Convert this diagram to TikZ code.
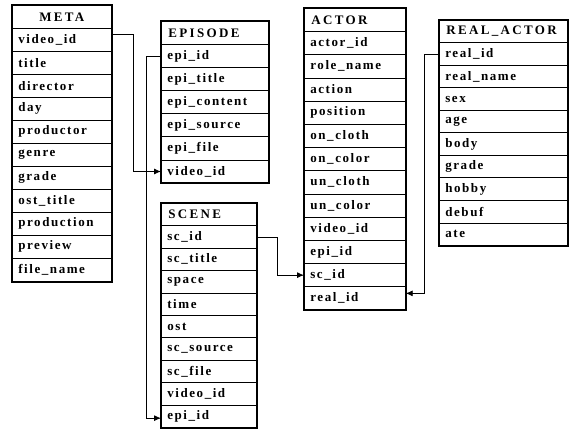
\documentclass[tikz,border=0pt]{standalone}
\usepackage{fontspec}
\setmainfont{Liberation Serif}
\newfontfamily\fieldfont[LetterSpace=12]{Liberation Serif}
\newfontfamily\headfont[LetterSpace=18]{Liberation Serif}
\usetikzlibrary{arrows.meta}
\tikzset{
  fieldbox/.style={draw, line width=0.7pt, inner xsep=6pt, inner ysep=0pt, align=left, font=\fieldfont\bfseries\fontsize{13}{14}\selectfont},
  hdrbox/.style={draw, line width=0.7pt, inner xsep=7pt, inner ysep=0pt, font=\headfont\bfseries\fontsize{13}{14}\selectfont},
  outerbox/.style={line width=2pt},
  conn/.style={line width=0.8pt, -{Latex[length=7pt,width=6pt]}},
}
\newcommand{\hdral}{left}
\newcommand{\dbtable}[8]{%
  \pgfmathsetmacro{\tw}{#4-12}%
  \node[hdrbox, align=\hdral, minimum width=#4, text width=\tw pt-2pt, minimum height=#5, anchor=north west] (#1h) at (#2,#3) {#6};
  \foreach \f [count=\i] in {#8} {
    \node[fieldbox, minimum width=#4, text width=\tw pt, minimum height=#5, anchor=north west] (#1\i) at (#2,{#3+\i*#5}) {\f};
  }
  \draw[outerbox] (#1h.north west) rectangle (#1#7.south east);
}
\begin{document}
\begin{tikzpicture}[x=1pt,y=-1pt]
\useasboundingbox (0,0) rectangle (569,430);
\renewcommand{\hdral}{center}
\dbtable{meta}{12}{5}{99}{23}{META}{11}{video\_id,title,director,day,productor,genre,grade,ost\_title,production,preview,file\_name}
\renewcommand{\hdral}{left}
\dbtable{epi}{161}{21}{107}{23.1}{EPISODE}{6}{epi\_id,epi\_title,epi\_content,epi\_source,epi\_file,video\_id}
\dbtable{scene}{161}{203}{95}{22.4}{SCENE}{9}{sc\_id,sc\_title,space,time,ost,sc\_source,sc\_file,video\_id,epi\_id}
\dbtable{actor}{304}{8}{101}{23.2}{ACTOR}{12}{actor\_id,role\_name,action,position,on\_cloth,on\_color,un\_cloth,un\_color,video\_id,epi\_id,sc\_id,real\_id}
\dbtable{real}{439}{20}{128}{22.5}{REAL\_ACTOR}{9}{real\_id,real\_name,sex,age,body,grade,hobby,debuf,ate}
% connectors
\draw[conn] ([yshift=5pt]meta1.east) -- ++(22,0) coordinate (c1) |- (epi6.west);
\draw[conn] (epi1.west) -- ++(-15,0) coordinate (c2) |- ([yshift=-2pt]scene9.west);
\draw[conn] (scene1.east) -- ++(21,0) coordinate (c3) |- (actor11.west);
\draw[conn] (real1.west) -- ++(-15,0) coordinate (c4) |- ([yshift=5pt]actor12.east);
\end{tikzpicture}
\end{document}
